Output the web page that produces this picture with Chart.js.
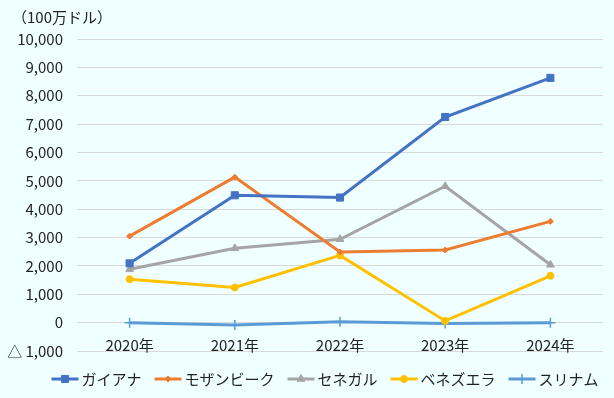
<!DOCTYPE html>
<html>
<head>
<meta charset="utf-8">
<script src="https://cdn.jsdelivr.net/npm/chart.js@4"></script>
<style>
    html, body { margin: 0; padding: 0; background: #f0ffff; }
    #wrap { width: 614px; height: 398px; }
</style>
</head>
<body>
<div id="wrap"><canvas id="chart1"></canvas></div>
<script>
// データ（100万ドル）
const years = ['2020年', '2021年', '2022年', '2023年', '2024年'];
const guyana = [2090, 4490, 4410, 7250, 8630];
const mozambique = [3050, 5130, 2490, 2560, 3570];
const senegal = [1880, 2620, 2940, 4810, 2040];
const venezuela = [1530, 1240, 2370, 60, 1650];
const suriname = [0, -80, 30, -30, 0];
const yTicks = [-1000, 0, 1000, 2000, 3000, 4000, 5000, 6000, 7000, 8000, 9000, 10000];

const FONT = '"Noto Sans CJK JP", "Noto Sans", sans-serif';
const TEXT = '#222';

function series(label, data, color, style, radius) {
    return {
        label: label,
        data: data,
        borderColor: color,
        backgroundColor: color,
        pointBackgroundColor: color,
        pointBorderColor: color,
        pointStyle: style,
        pointRadius: radius,
        pointBorderWidth: style === 'cross' ? 1.5 : 1,
        borderWidth: 3,
        tension: 0
    };
}

// タイトルと凡例（Excel風：線＋マーカー）
const extras = {
    id: 'extras',
    afterDraw(chart) {
        const ctx = chart.ctx;
        ctx.save();
        ctx.font = '15px ' + FONT;
        ctx.fillStyle = TEXT;
        ctx.textBaseline = 'middle';
        ctx.fillText('（100万ドル）', 12, 17);

        const sets = chart.data.datasets;
        const lineW = 27, gap = 3, itemGap = 13, y = 379;
        const widths = sets.map(ds => lineW + gap + ctx.measureText(ds.label).width);
        const total = widths.reduce((a, b) => a + b, 0) + itemGap * (sets.length - 1);
        let x = 325 - total / 2;
        sets.forEach((ds, i) => {
            ctx.strokeStyle = ds.borderColor;
            ctx.fillStyle = ds.borderColor;
            ctx.lineWidth = 3;
            ctx.beginPath();
            ctx.moveTo(x, y);
            ctx.lineTo(x + lineW, y);
            ctx.stroke();
            ctx.lineWidth = ds.pointBorderWidth;
            if (Chart.helpers && Chart.helpers.drawPoint) {
                Chart.helpers.drawPoint(ctx, {
                    pointStyle: ds.pointStyle,
                    radius: ds.pointRadius,
                    borderWidth: ds.pointBorderWidth
                }, x + lineW / 2, y);
            }
            ctx.fillStyle = TEXT;
            ctx.textAlign = 'left';
            ctx.fillText(ds.label, x + lineW + gap, y);
            x += widths[i] + itemGap;
        });
        ctx.restore();
    }
};

new Chart(document.getElementById('chart1').getContext('2d'), {
    type: 'line',
    data: {
        labels: years,
        datasets: [
            series('ガイアナ', guyana, '#4472c4', 'rect', 5),
            series('モザンビーク', mozambique, '#ed7d31', 'rectRot', 3),
            series('セネガル', senegal, '#a5a5a5', 'triangle', 4.5),
            series('ベネズエラ', venezuela, '#ffc000', 'circle', 3.5),
            series('スリナム', suriname, '#5b9bd5', 'cross', 5)
        ]
    },
    options: {
        responsive: true,
        maintainAspectRatio: false,
        animation: false,
        layout: { padding: { top: 39, right: 11, left: 0, bottom: 47 } },
        plugins: {
            legend: { display: false },
            tooltip: { enabled: false }
        },
        scales: {
            x: {
                position: { y: 0 },
                offset: true,
                grid: { display: false },
                border: { display: false },
                ticks: {
                    font: { family: FONT, size: 15 },
                    color: TEXT,
                    padding: 6,
                    maxRotation: 0
                }
            },
            y: {
                min: -1000,
                max: 10000,
                afterBuildTicks: function (axis) {
                    axis.ticks = yTicks.map(v => ({ value: v }));
                },
                afterFit: function (axis) { axis.width = 77; },
                grid: { color: '#d9d9d9', lineWidth: 1, drawTicks: false },
                border: { display: false },
                ticks: {
                    font: { family: FONT, size: 15 },
                    color: TEXT,
                    padding: 14,
                    callback: function (v) {
                        const s = Math.abs(v).toLocaleString('en-US');
                        return v < 0 ? '△ ' + s : s;
                    }
                }
            }
        }
    },
    plugins: [extras]
});
</script>
</body>
</html>
